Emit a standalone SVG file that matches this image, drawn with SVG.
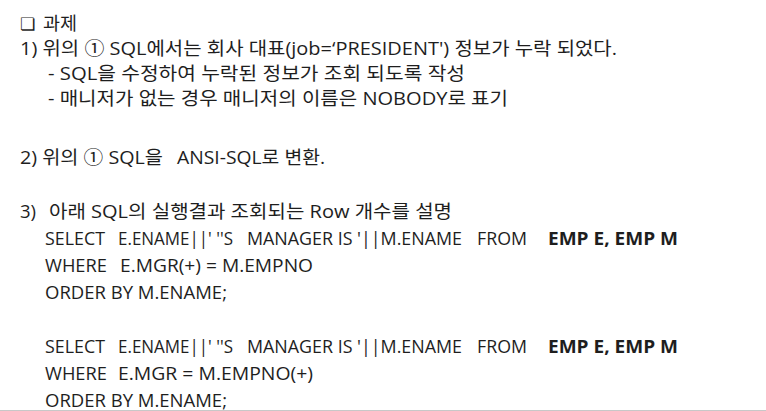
<svg xmlns="http://www.w3.org/2000/svg" width="766" height="411" viewBox="0 0 766 411">
<style>
text{font-family:"Open Sans","Noto Sans CJK KR",sans-serif;font-size:18px;fill:#1e1e1e}
.k{font-size:18.5px}
.b{font-weight:bold}
.sym{font-family:"DejaVu Sans","Noto Sans CJK KR",sans-serif;font-size:17px}
</style>
<rect width="766" height="411" fill="#fff"/>
<g id="title">
<text x="20" y="30" class="k"><tspan class="sym">❏</tspan><tspan x="43">과제</tspan></text>
</g>
<g id="q1">
<text class="k" x="20" y="55" textLength="597" lengthAdjust="spacingAndGlyphs">1) 위의 ① SQL에서는 회사 대표(job=‘PRESIDENT') 정보가 누락 되었다.</text>
<text class="k" x="48" y="80" textLength="417" lengthAdjust="spacingAndGlyphs">- SQL을 수정하여 누락된 정보가 조회 되도록 작성</text>
<text class="k" x="48" y="105" textLength="460" lengthAdjust="spacingAndGlyphs">- 매니저가 없는 경우 매니저의 이름은 NOBODY로 표기</text>
</g>
<g id="q2">
<text class="k" x="20" y="164"><tspan textLength="143" lengthAdjust="spacingAndGlyphs">2) 위의 ① SQL을</tspan><tspan x="177" textLength="148" lengthAdjust="spacingAndGlyphs">ANSI-SQL로 변환.</tspan></text>
</g>
<g id="q3">
<text class="k" x="20" y="218">3)<tspan x="49" textLength="403" lengthAdjust="spacingAndGlyphs">아래 SQL의 실행결과 조회되는 Row 개수를 설명</tspan></text>
</g>
<g id="sql1">
<text y="245"><tspan x="45" textLength="60" lengthAdjust="spacingAndGlyphs">SELECT</tspan><tspan x="118" textLength="115" lengthAdjust="spacingAndGlyphs">E.ENAME||' ''S</tspan><tspan x="247" textLength="215" lengthAdjust="spacingAndGlyphs">MANAGER IS '||M.ENAME</tspan><tspan x="477" textLength="50" lengthAdjust="spacingAndGlyphs">FROM</tspan><tspan x="548" class="b" textLength="130" lengthAdjust="spacingAndGlyphs">EMP E, EMP M</tspan></text>
<text y="272"><tspan x="45" textLength="62" lengthAdjust="spacingAndGlyphs">WHERE</tspan><tspan x="120" textLength="193" lengthAdjust="spacingAndGlyphs">E.MGR(+) = M.EMPNO</tspan></text>
<text x="45" y="299" textLength="182" lengthAdjust="spacingAndGlyphs">ORDER BY M.ENAME;</text>
</g>
<g id="sql2">
<text y="353"><tspan x="45" textLength="60" lengthAdjust="spacingAndGlyphs">SELECT</tspan><tspan x="118" textLength="115" lengthAdjust="spacingAndGlyphs">E.ENAME||' ''S</tspan><tspan x="247" textLength="215" lengthAdjust="spacingAndGlyphs">MANAGER IS '||M.ENAME</tspan><tspan x="477" textLength="50" lengthAdjust="spacingAndGlyphs">FROM</tspan><tspan x="548" class="b" textLength="130" lengthAdjust="spacingAndGlyphs">EMP E, EMP M</tspan></text>
<text y="380"><tspan x="45" textLength="62" lengthAdjust="spacingAndGlyphs">WHERE</tspan><tspan x="118" textLength="195" lengthAdjust="spacingAndGlyphs">E.MGR = M.EMPNO(+)</tspan></text>
<text x="45" y="407" textLength="182" lengthAdjust="spacingAndGlyphs">ORDER BY M.ENAME;</text>
</g>
<g id="connectors"></g>
<line x1="0" y1="410.5" x2="766" y2="410.5" stroke="#c8c8c8" stroke-width="1"/>
</svg>
